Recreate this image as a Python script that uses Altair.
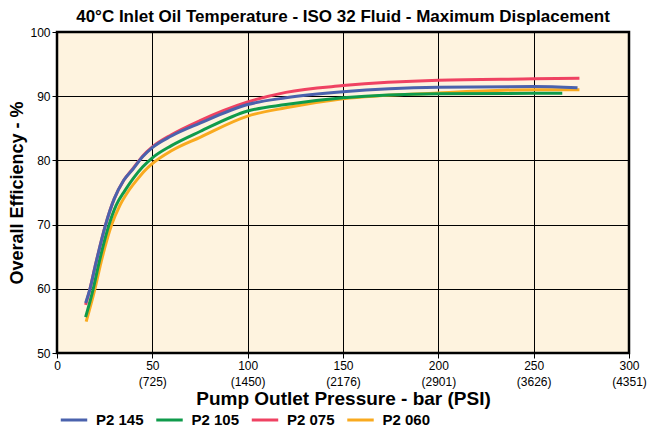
import altair as alt
import pandas as pd

series_names = ["P2 145", "P2 105", "P2 075", "P2 060"]
series_colors = ["#4a62ad", "#0f9b4b", "#ef4262", "#f9aa1f"]

# pressure (bar) / overall efficiency (%)
p2_145_x = [15, 17.3, 20, 25.5, 30, 35, 40, 45, 50, 60, 75, 100, 120, 150, 200, 250, 273]
p2_145_y = [57.8, 60.0, 63.5, 70.0, 74.0, 76.9, 78.7, 80.6, 82.0, 83.8, 85.8, 88.7, 89.75, 90.7, 91.4, 91.5, 91.3]

p2_105_x = [15, 19, 22, 27.3, 31, 35.6, 40, 45, 50, 60, 75, 100, 120, 150, 200, 250, 265]
p2_105_y = [55.6, 60.0, 64.0, 70.0, 73.0, 75.3, 77.2, 79.0, 80.4, 82.3, 84.5, 87.7, 88.7, 89.75, 90.4, 90.45, 90.45]

p2_075_x = [15, 17.3, 20, 25.5, 30, 35, 40, 45, 50, 60, 75, 100, 120, 150, 200, 250, 274]
p2_075_y = [57.5, 60.0, 63.5, 70.0, 74.0, 76.9, 78.8, 80.7, 82.1, 84.0, 86.2, 89.1, 90.6, 91.65, 92.5, 92.7, 92.8]

p2_060_x = [15.3, 19.9, 23, 28.7, 33, 37.4, 42, 46, 50, 60, 75, 100, 120, 150, 200, 250, 274]
p2_060_y = [54.9, 60.0, 64.0, 70.0, 73.0, 75.2, 77.0, 78.4, 79.5, 81.5, 83.6, 86.9, 88.2, 89.6, 90.5, 91.0, 91.0]

x_ticks = [0, 50, 100, 150, 200, 250, 300]
psi_labels = ["", "(725)", "(1450)", "(2176)", "(2901)", "(3626)", "(4351)"]
y_ticks = [50, 60, 70, 80, 90, 100]

rows = []
# drawing order: bottom to top
for name, xs, ys in [("P2 060", p2_060_x, p2_060_y), ("P2 075", p2_075_x, p2_075_y),
                     ("P2 105", p2_105_x, p2_105_y), ("P2 145", p2_145_x, p2_145_y)]:
    for xv, yv in zip(xs, ys):
        rows.append({"series": name, "pressure": xv, "efficiency": yv})
df = pd.DataFrame(rows)

# build the two-line tick label expression
parts = []
for v, p in zip(x_ticks, psi_labels):
    if p:
        parts.append(f"datum.value == {v} ? ['{v}', '{p}']")
    else:
        parts.append(f"datum.value == {v} ? '{v}'")
label_expr = " : ".join(parts) + " : datum.label"

FONT = "Liberation Sans"

chart = alt.Chart(df).mark_line(strokeWidth=3, interpolate="monotone", strokeCap="butt").encode(
    x=alt.X("pressure:Q",
            scale=alt.Scale(domain=[0, 300], nice=False, zero=False),
            axis=alt.Axis(values=x_ticks, labelExpr=label_expr,
                          title="Pump Outlet Pressure - bar (PSI)",
                          titleFontSize=19, titlePadding=2, labelLineHeight=16,
                          labelFlush=False, labelOverlap=False)),
    y=alt.Y("efficiency:Q",
            scale=alt.Scale(domain=[50, 100], nice=False, zero=False),
            axis=alt.Axis(values=y_ticks, title="Overall Efficiency - %",
                          titleFontSize=18, titlePadding=3)),
    color=alt.Color("series:N",
                    scale=alt.Scale(domain=series_names, range=series_colors),
                    legend=alt.Legend(orient="none", legendX=2, legendY=373,
                                      direction="horizontal", title=None,
                                      symbolType="stroke", symbolStrokeWidth=3,
                                      symbolSize=700, labelFontSize=15,
                                      labelFontWeight="bold", labelFont=FONT,
                                      labelColor="black", labelOffset=7,
                                      columnPadding=5.5)),
    detail="series:N",
).properties(
    width=572, height=321,
    padding={"left": 0, "top": 0, "right": 0, "bottom": 0},
    title=alt.Title("40°C Inlet Oil Temperature - ISO 32 Fluid - Maximum Displacement",
                    fontSize=17, fontWeight="bold", font=FONT, color="black",
                    anchor="middle", offset=0),
).configure_view(
    fill="#fef3df", stroke="black", strokeWidth=2.5
).configure_axis(
    domain=False, grid=True, gridColor="black", gridWidth=1, gridOpacity=1,
    tickColor="black", tickSize=5, labelColor="black", labelFont=FONT,
    labelFontSize=12, labelPadding=2, titleFont=FONT, titleFontWeight="bold",
    titleColor="black"
)

chart.save("out.html", embed_options={"renderer": "svg", "actions": False})
